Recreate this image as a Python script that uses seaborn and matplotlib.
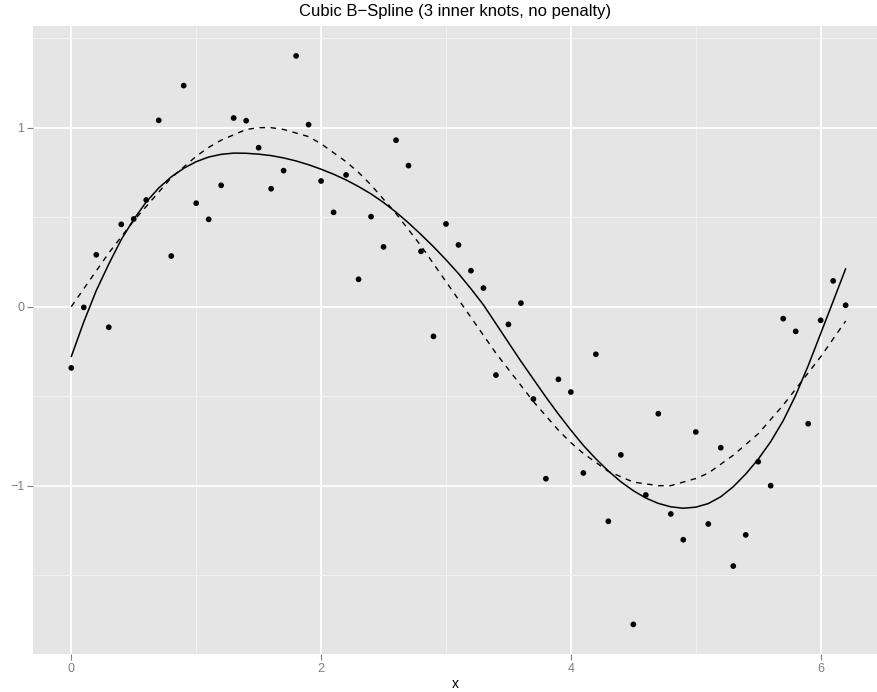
import numpy as np
import pandas as pd
import matplotlib
matplotlib.use("Agg")
import matplotlib.pyplot as plt
import seaborn as sns
from matplotlib.ticker import MultipleLocator

# Observed samples
x_obs = [round(0.1 * i, 1) for i in range(63)]
y_obs = [-0.342, -0.004, 0.290, -0.115, 0.460, 0.490, 0.596, 1.041, 0.283, 1.235,
         0.578, 0.488, 0.678, 1.054, 1.039, 0.888, 0.659, 0.760, 1.401, 1.017,
         0.702, 0.527, 0.736, 0.153, 0.503, 0.334, 0.930, 0.788, 0.309, -0.166,
         0.462, 0.345, 0.201, 0.104, -0.382, -0.099, 0.020, -0.516, -0.961, -0.406,
         -0.477, -0.929, -0.266, -1.199, -0.828, -1.775, -1.052, -0.598, -1.158, -1.302,
         -0.700, -1.214, -0.788, -1.449, -1.275, -0.866, -1.000, -0.067, -0.138, -0.654,
         -0.076, 0.144, 0.008]

# True curve (dashed)
y_true = [0.00, 0.10, 0.20, 0.30, 0.39, 0.48, 0.56, 0.64, 0.72, 0.78,
          0.84, 0.89, 0.93, 0.96, 0.99, 1.00, 1.00, 0.99, 0.97, 0.95,
          0.91, 0.86, 0.81, 0.75, 0.68, 0.60, 0.52, 0.43, 0.34, 0.24,
          0.14, 0.04, -0.06, -0.16, -0.26, -0.35, -0.44, -0.53, -0.61, -0.69,
          -0.76, -0.82, -0.87, -0.92, -0.95, -0.98, -0.99, -1.00, -1.00, -0.98,
          -0.96, -0.93, -0.88, -0.83, -0.77, -0.71, -0.63, -0.55, -0.46, -0.37,
          -0.28, -0.18, -0.08]

# Fitted cubic B-spline (solid)
y_fit = [-0.279, -0.085, 0.090, 0.238, 0.375, 0.488, 0.585, 0.663, 0.725, 0.773,
         0.810, 0.836, 0.851, 0.858, 0.857, 0.852, 0.844, 0.831, 0.814, 0.793,
         0.768, 0.740, 0.708, 0.671, 0.630, 0.582, 0.528, 0.468, 0.403, 0.335,
         0.262, 0.185, 0.100, 0.010, -0.095, -0.200, -0.305, -0.405, -0.505, -0.600,
         -0.690, -0.775, -0.850, -0.918, -0.978, -1.028, -1.069, -1.099, -1.118, -1.126,
         -1.120, -1.100, -1.062, -1.006, -0.935, -0.852, -0.754, -0.637, -0.495, -0.330,
         -0.150, 0.030, 0.212]

df = pd.DataFrame({"x": x_obs, "y": y_obs, "truth": y_true, "fit": y_fit})

sns.set_theme(style="white")
plt.rcParams["font.family"] = ["Liberation Sans", "DejaVu Sans"]

fig = plt.figure(figsize=(8.77, 6.92), dpi=100)
ax = fig.add_axes([32.7 / 877, 1 - 654.3 / 692, 1 - 32.7 / 877, (654.3 - 26) / 692])
ax.set_facecolor("#E5E5E5")
for s in ax.spines.values():
    s.set_visible(False)

ax.set_xlim(-0.309, 6.451)
ax.set_ylim(-1.942, 1.568)
ax.xaxis.set_major_locator(MultipleLocator(2))
ax.xaxis.set_minor_locator(MultipleLocator(1))
ax.yaxis.set_major_locator(MultipleLocator(1))
ax.yaxis.set_minor_locator(MultipleLocator(0.5))
ax.grid(which="major", color="white", linewidth=1.3)
ax.grid(which="minor", color="#F2F2F2", linewidth=0.7)
ax.set_axisbelow(True)
ax.tick_params(which="major", length=4, width=0.8, color="#7F7F7F",
               labelcolor="#7F7F7F", labelsize=9, pad=2,
               bottom=True, left=True)
ax.tick_params(which="minor", length=0, bottom=False, left=False)

sns.lineplot(data=df, x="x", y="truth", ax=ax, color="black", linewidth=1.0,
             linestyle=(0, (4, 4)), estimator=None, sort=False)
sns.lineplot(data=df, x="x", y="fit", ax=ax, color="black", linewidth=1.1,
             estimator=None, sort=False)
sns.scatterplot(data=df, x="x", y="y", ax=ax, color="black", s=17,
                edgecolor="none", linewidth=0)

ax.set_title("Cubic B\u2212Spline (3 inner knots, no penalty)", fontsize=12,
             color="black", pad=7)
ax.set_xlabel("x", fontsize=10, color="black", labelpad=2)
ax.set_ylabel("")

fig.savefig("out.png", dpi=100)
